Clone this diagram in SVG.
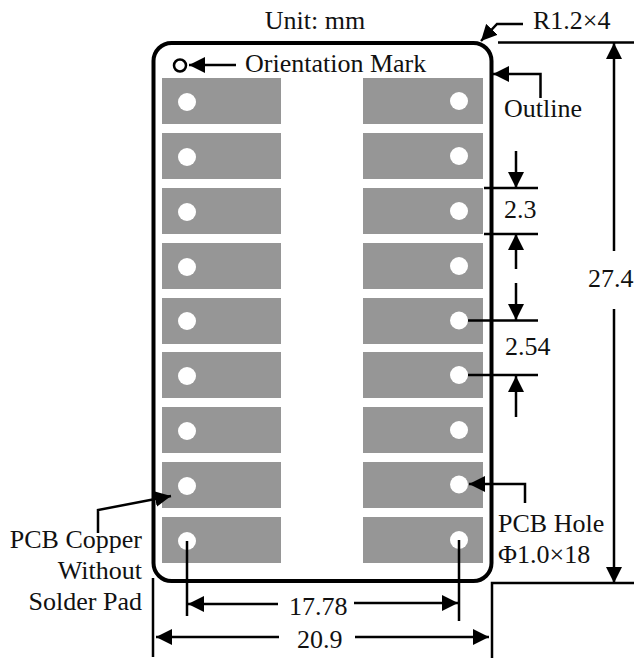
<svg xmlns="http://www.w3.org/2000/svg" width="634" height="658" viewBox="0 0 634 658">
<style>
text{font-family:"Liberation Serif","Times New Roman",serif;font-size:26px;fill:#111}
.pad{fill:#969696}
.hole{fill:#fff}
.ln{fill:none;stroke:#000;stroke-width:2.5}
.ar{fill:none;stroke:#000;stroke-width:2.5;marker-end:url(#a)}
</style>
<defs>
<marker id="a" markerUnits="userSpaceOnUse" markerWidth="17" markerHeight="17" refX="16" refY="8.5" orient="auto"><path d="M0 0.5L16 8.5L0 16.5Z" fill="#000"/></marker>
</defs>
<rect width="634" height="658" fill="#fff"/>
<g id="pads-left">
<rect class="pad" x="162" y="78" width="119" height="46"/>
<rect class="pad" x="162" y="133" width="119" height="46"/>
<rect class="pad" x="162" y="188" width="119" height="46"/>
<rect class="pad" x="162" y="243" width="119" height="46"/>
<rect class="pad" x="162" y="298" width="119" height="46"/>
<rect class="pad" x="162" y="352" width="119" height="46"/>
<rect class="pad" x="162" y="407" width="119" height="46"/>
<rect class="pad" x="162" y="462" width="119" height="46"/>
<rect class="pad" x="162" y="517" width="119" height="46"/>
</g>
<g id="pads-right">
<rect class="pad" x="363" y="78" width="120" height="46"/>
<rect class="pad" x="363" y="133" width="120" height="46"/>
<rect class="pad" x="363" y="188" width="120" height="46"/>
<rect class="pad" x="363" y="243" width="120" height="46"/>
<rect class="pad" x="363" y="298" width="120" height="46"/>
<rect class="pad" x="363" y="352" width="120" height="46"/>
<rect class="pad" x="363" y="407" width="120" height="46"/>
<rect class="pad" x="363" y="462" width="120" height="46"/>
<rect class="pad" x="363" y="517" width="120" height="46"/>
</g>
<g id="holes-left">
<circle class="hole" cx="187" cy="102" r="9"/>
<circle class="hole" cx="187" cy="157" r="9"/>
<circle class="hole" cx="187" cy="212" r="9"/>
<circle class="hole" cx="187" cy="267" r="9"/>
<circle class="hole" cx="187" cy="321" r="9"/>
<circle class="hole" cx="187" cy="376" r="9"/>
<circle class="hole" cx="187" cy="431" r="9"/>
<circle class="hole" cx="187" cy="486" r="9"/>
<circle class="hole" cx="187" cy="541" r="9"/>
</g>
<g id="holes-right">
<circle class="hole" cx="459" cy="101" r="9"/>
<circle class="hole" cx="459" cy="156" r="9"/>
<circle class="hole" cx="459" cy="211" r="9"/>
<circle class="hole" cx="459" cy="266" r="9"/>
<circle class="hole" cx="459" cy="320.5" r="9"/>
<circle class="hole" cx="459" cy="375" r="9"/>
<circle class="hole" cx="459" cy="430" r="9"/>
<circle class="hole" cx="459" cy="484.5" r="9"/>
<circle class="hole" cx="459" cy="540" r="9"/>
</g>
<g id="outline">
<rect x="153.5" y="43" width="338" height="538" rx="18" ry="18" fill="none" stroke="#000" stroke-width="4"/>
</g>
<g id="orientation-mark">
<circle cx="180" cy="65.5" r="6" fill="none" stroke="#000" stroke-width="2.5"/>
</g>
<g id="connectors">
<path class="ar" d="M236 65H189"/>
<path class="ar" d="M523 24H497L481 41"/>
<path class="ln" d="M498 42.5H634"/>
<path class="ar" d="M614 251V43"/>
<path class="ar" d="M614 309V583"/>
<path class="ln" d="M492 658V583H634"/>
<path class="ar" d="M540.5 98V74H493"/>
<path class="ar" d="M516 151V188"/>
<path class="ln" d="M484 188H538M484 234H538"/>
<path class="ar" d="M516 269V234"/>
<path class="ar" d="M516 283V320"/>
<path class="ln" d="M468 320.5H538M468 375H538"/>
<path class="ar" d="M516 417V376"/>
<path class="ar" d="M525 503V484H469"/>
<path class="ln" d="M459 540V621M187 541V616M153 578V657"/>
<path class="ar" d="M278 604H188"/>
<path class="ar" d="M354 603H458"/>
<path class="ar" d="M279 637H156"/>
<path class="ar" d="M355 637H489"/>
<path class="ar" d="M98 533V510L171 496"/>
</g>
<g id="labels">
<text x="315" y="29" text-anchor="middle">Unit: mm</text>
<text x="245" y="72">Orientation Mark</text>
<text x="533" y="29">R1.2×4</text>
<text x="504" y="117">Outline</text>
<text x="504" y="218">2.3</text>
<text x="505" y="355">2.54</text>
<text x="588" y="287">27.4</text>
<text x="498" y="532">PCB Hole</text>
<text x="498" y="563">Φ1.0×18</text>
<text x="142" y="548" text-anchor="end">PCB Copper</text>
<text x="142" y="579" text-anchor="end">Without</text>
<text x="142" y="610" text-anchor="end">Solder Pad</text>
<text x="289" y="615">17.78</text>
<text x="297" y="648">20.9</text>
</g>
</svg>
